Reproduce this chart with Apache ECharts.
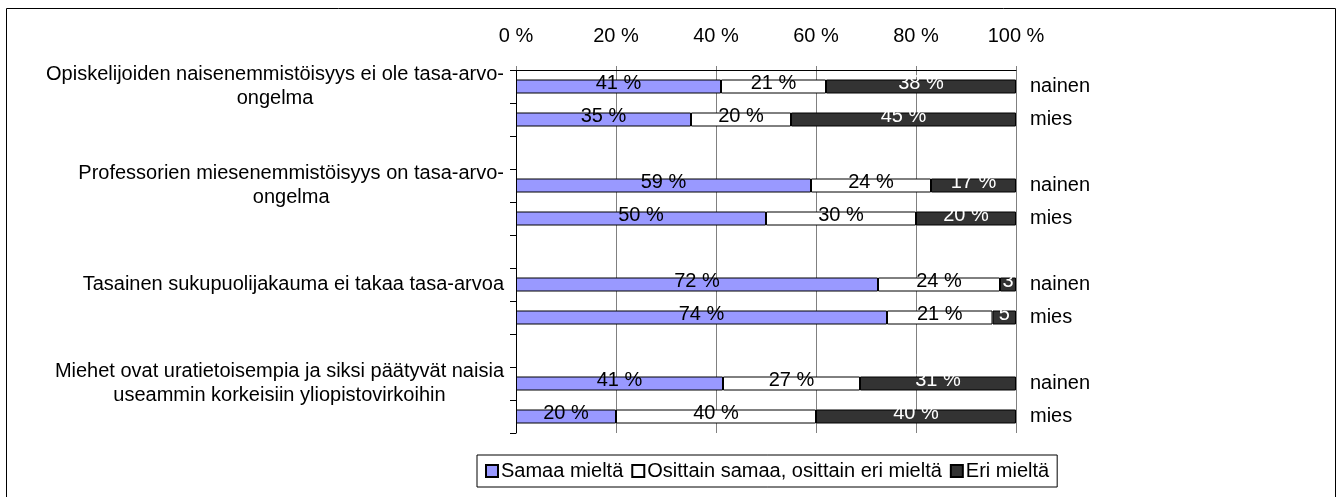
<!DOCTYPE html>
<html>
<head>
<meta charset="utf-8">
<script src="https://cdn.jsdelivr.net/npm/echarts@6/dist/echarts.min.js"></script>
<style>
  html, body { margin: 0; padding: 0; background: #fff; }
  #chart { width: 1341px; height: 497px; }
</style>
</head>
<body>
<div id="chart"></div>
<script>
// rows top to bottom, '' = gap between question groups
const rows = ['nainen', 'mies', '', 'nainen', 'mies', '', 'nainen', 'mies', '', 'nainen', 'mies']
const questions = [
  'Opiskelijoiden naisenemmistöisyys ei ole tasa-arvo-\nongelma',
  'Professorien miesenemmistöisyys on tasa-arvo-\nongelma',
  'Tasainen sukupuolijakauma ei takaa tasa-arvoa',
  'Miehet ovat uratietoisempia ja siksi päätyvät naisia\nuseammin korkeisiin yliopistovirkoihin'
]
const seriesNames = ['Samaa mieltä', 'Osittain samaa, osittain eri mieltä', 'Eri mieltä']
const samaa = [41, 35, null, 59, 50, null, 72.4, 74.2, null, 41.4, 20]
const osittain = [21, 20, null, 24, 30, null, 24.4, 21.1, null, 27.4, 40]
const eri = [38, 45, null, 17, 20, null, 3.2, 4.7, null, 31.2, 40]
const xTicks = [0, 20, 40, 60, 80, 100]

const font = '"Liberation Sans", Arial, sans-serif'
const colors = ['#9999ff', '#ffffff', '#333333']
const labelColors = ['#000', '#000', '#fff']

const chart = echarts.init(document.getElementById('chart'))

function pct(p) {
  const v = Math.round(p.value)
  return v < 10 ? String(v) : v + ' %'
}

const series = [samaa, osittain, eri].map((data, i) => ({
  name: seriesNames[i],
  type: 'bar',
  stack: 'total',
  barWidth: 14,
  data: data,
  itemStyle: { color: colors[i], borderColor: '#000', borderWidth: 1 },
  label: {
    show: true,
    position: 'inside',
    offset: [0, -3],
    formatter: pct,
    color: labelColors[i],
    fontFamily: font,
    fontSize: 20
  },
  emphasis: { disabled: true },
  animation: false
}))

chart.setOption({
  textStyle: { fontFamily: font },
  graphic: [{
    type: 'rect',
    shape: { x: 6.5, y: 8.5, width: 1329, height: 500 },
    style: { fill: 'none', stroke: '#000', lineWidth: 1 },
    silent: true
  }],
  grid: { left: 516, right: 325, top: 70, bottom: 64 },
  legend: {
    data: seriesNames,
    left: 477,
    top: 455,
    icon: 'rect',
    itemWidth: 12,
    itemHeight: 12,
    itemGap: 8,
    padding: [6, 8, 6, 8],
    borderColor: '#000',
    borderWidth: 1,
    borderRadius: 0,
    textStyle: { fontFamily: font, fontSize: 20, color: '#000', padding: [0, 0, 0, -2] }
  },
  xAxis: {
    type: 'value',
    position: 'top',
    min: 0,
    max: 100,
    interval: 20,
    axisLine: { show: true, lineStyle: { color: '#000' } },
    axisTick: { show: true, length: 4, lineStyle: { color: '#808080' } },
    splitLine: { show: true, lineStyle: { color: '#808080', width: 1 } },
    axisLabel: {
      margin: 24,
      fontSize: 20,
      color: '#000',
      formatter: v => xTicks.indexOf(v) >= 0 ? v + ' %' : ''
    }
  },
  yAxis: [{
    type: 'category',
    data: rows,
    inverse: true,
    axisLine: { show: true, lineStyle: { color: '#000' } },
    axisTick: { show: true, length: 6, lineStyle: { color: '#000' } },
    axisLabel: {
      interval: 0,
      margin: 12,
      align: 'right',
      formatter: (v, i) => i % 3 === 0
        ? questions[i / 3].split('\n').map(l => '{c|' + l + '}').join('\n')
        : '',
      rich: {
        c: { align: 'center', fontSize: 20, lineHeight: 24, color: '#000', fontFamily: font }
      }
    }
  }, {
    type: 'category',
    data: rows,
    inverse: true,
    position: 'right',
    axisLine: { show: false },
    axisTick: { show: false },
    axisLabel: {
      interval: 0,
      margin: 14,
      fontSize: 20,
      color: '#000',
      fontFamily: font
    }
  }],
  series: series
})
</script>
</body>
</html>
